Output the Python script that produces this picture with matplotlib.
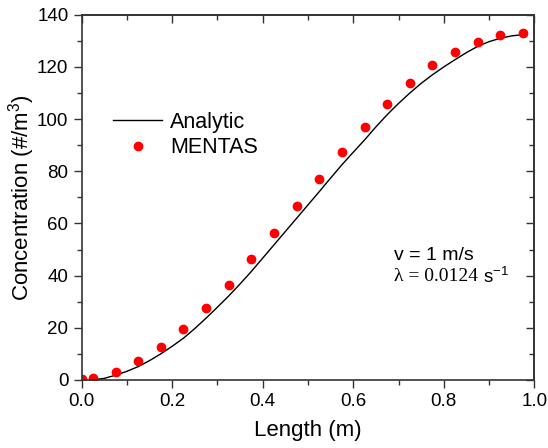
import matplotlib
matplotlib.use("Agg")
import matplotlib.pyplot as plt
from matplotlib.ticker import MultipleLocator

plt.rcParams["font.family"] = ["Liberation Sans", "DejaVu Sans"]
plt.rcParams["mathtext.fontset"] = "custom"
plt.rcParams["mathtext.rm"] = "Liberation Sans"
plt.rcParams["mathtext.it"] = "Liberation Sans:italic"

# ── Data ─────────────────────────────────────────────────────────────────────
analytic_x = [0.025, 0.05, 0.075, 0.1, 0.125, 0.15, 0.175, 0.2, 0.225, 0.25,
              0.275, 0.3, 0.325, 0.35, 0.375, 0.4, 0.425, 0.45, 0.475, 0.5,
              0.525, 0.55, 0.575, 0.6, 0.625, 0.65, 0.675, 0.7, 0.725, 0.75,
              0.775, 0.8, 0.825, 0.85, 0.875, 0.9, 0.925, 0.95, 0.975]
analytic_y = [0.0, 0.6, 1.8, 3.3, 5.1, 7.4, 10.0, 12.9, 16.0, 19.7,
              23.7, 27.9, 32.2, 36.8, 41.6, 46.7, 51.8, 56.9, 62.0, 67.1,
              72.2, 77.4, 82.5, 87.3, 92.0, 97.0, 101.7, 106.0, 110.0, 113.7,
              117.0, 120.0, 122.8, 125.5, 127.9, 129.7, 131.0, 131.9, 132.4]

mentas_x = [0.0, 0.025, 0.075, 0.125, 0.175, 0.225, 0.275, 0.325, 0.375, 0.425,
            0.475, 0.525, 0.575, 0.625, 0.675, 0.725, 0.775, 0.825, 0.875,
            0.925, 0.975]
mentas_y = [0.3, 0.9, 3.2, 7.2, 12.5, 19.4, 27.5, 36.4, 46.2, 56.3,
            66.8, 77.1, 87.3, 96.9, 105.8, 113.8, 120.6, 125.8, 129.7,
            132.1, 132.9]

# ── Plot ─────────────────────────────────────────────────────────────────────
fig = plt.figure(figsize=(5.48, 4.48), dpi=100)
ax = fig.add_axes([0.149, 0.152, 0.826, 0.815])

ax.plot(analytic_x, analytic_y, color="black", lw=1.0, label="Analytic")
ax.plot(mentas_x, mentas_y, ls="none", marker="o", ms=6, color="#ff0000",
        mec="#ff0000", label="MENTAS")

ax.set_xlim(0, 1.0)
ax.set_ylim(0, 140)
ax.xaxis.set_major_locator(MultipleLocator(0.2))
ax.xaxis.set_minor_locator(MultipleLocator(0.1))
ax.yaxis.set_major_locator(MultipleLocator(20))
ax.yaxis.set_minor_locator(MultipleLocator(10))
ax.xaxis.set_major_formatter(plt.FuncFormatter(lambda v, p: f"{v:.1f}"))

spine_col = "#333333"
for s in ax.spines.values():
    s.set_color(spine_col)
    s.set_linewidth(1.2)

ax.tick_params(which="both", direction="out", colors=spine_col,
               labelcolor="black", labelsize=13.5, width=1.0)
ax.tick_params(which="major", length=6)
ax.tick_params(which="minor", length=3.5)

# mirrored ticks on top and right, pointing inward
top = ax.secondary_xaxis("top")
top.xaxis.set_major_locator(MultipleLocator(0.2))
top.xaxis.set_minor_locator(MultipleLocator(0.1))
right = ax.secondary_yaxis("right")
right.yaxis.set_major_locator(MultipleLocator(20))
right.yaxis.set_minor_locator(MultipleLocator(10))
for sec in (top, right):
    sec.tick_params(which="both", direction="in", colors=spine_col,
                    labelleft=False, labelright=False, labeltop=False,
                    labelbottom=False, width=1.0)
    sec.tick_params(which="major", length=6)
    sec.tick_params(which="minor", length=3.5)
    for s in sec.spines.values():
        s.set_color(spine_col)
        s.set_linewidth(1.2)

ax.set_xlabel("Length (m)", fontsize=16, labelpad=7)
ax.set_ylabel("Concentration (#/m$^3$)", fontsize=16, labelpad=0)

ax.legend(loc="center left", bbox_to_anchor=(0.069, 0.671), frameon=False,
          fontsize=15.5, handlelength=2.3, handletextpad=0.35,
          labelspacing=0.2, borderpad=0, borderaxespad=0)

ax.text(0.69, 0.34, "v = 1 m/s", transform=ax.transAxes, fontsize=14,
        va="center", ha="left")
lam = ax.text(0.69, 0.282, "\u03bb = 0.0124", transform=ax.transAxes,
              fontsize=14, family="Liberation Serif", va="center", ha="left")
ax.annotate(" s$^{-1}$", xy=(1, 0.5), xycoords=lam, va="center", ha="left",
            fontsize=13.5)

fig.savefig("out.png", dpi=100)
